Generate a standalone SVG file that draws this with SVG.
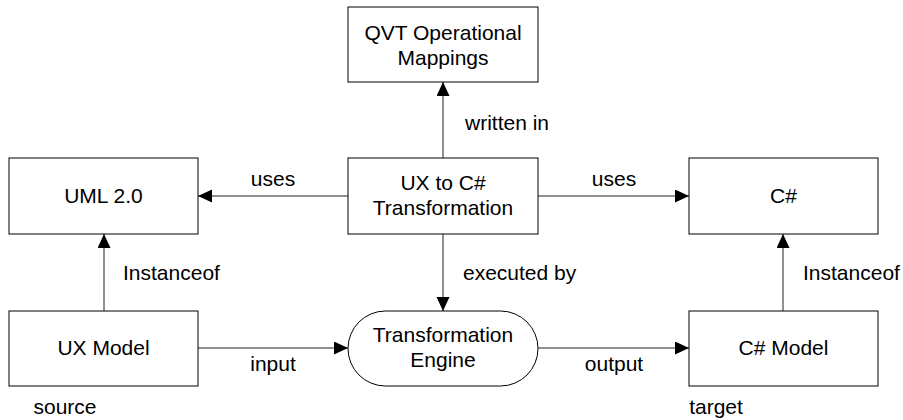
<svg xmlns="http://www.w3.org/2000/svg" width="903" height="420" viewBox="0 0 903 420">
<style>
.box{fill:#fff;stroke:#000;stroke-width:1}
.t{font-family:"Liberation Sans",Arial,sans-serif;font-size:21px;fill:#000}
.c{text-anchor:middle}
.e{fill:none;stroke:#222;stroke-width:1}
</style>
<defs>
<marker id="ah" markerUnits="userSpaceOnUse" markerWidth="14" markerHeight="14" refX="14" refY="6.5" orient="auto">
<path d="M0,0 L14,6.5 L0,13 Z" fill="#000"/>
</marker>
</defs>
<rect width="903" height="420" fill="#fff"/>
<g id="edges">
<line class="e" x1="443" y1="158" x2="443" y2="82" marker-end="url(#ah)"/>
<line class="e" x1="348" y1="196" x2="198" y2="196" marker-end="url(#ah)"/>
<line class="e" x1="538" y1="196" x2="689" y2="196" marker-end="url(#ah)"/>
<line class="e" x1="443" y1="234" x2="443" y2="311" marker-end="url(#ah)"/>
<line class="e" x1="104" y1="311" x2="104" y2="234" marker-end="url(#ah)"/>
<line class="e" x1="783" y1="311" x2="783" y2="234" marker-end="url(#ah)"/>
<line class="e" x1="198" y1="348" x2="348" y2="348" marker-end="url(#ah)"/>
<line class="e" x1="538" y1="348" x2="689" y2="348" marker-end="url(#ah)"/>
<text class="t" x="465" y="130">written in</text>
<text class="t c" x="273" y="186">uses</text>
<text class="t c" x="614" y="186">uses</text>
<text class="t" x="123" y="280">Instanceof</text>
<text class="t" x="463" y="280">executed by</text>
<text class="t" x="803" y="280">Instanceof</text>
<text class="t c" x="273" y="371">input</text>
<text class="t c" x="614" y="371">output</text>
<text class="t c" x="65" y="414">source</text>
<text class="t c" x="716" y="414">target</text>
</g>
<g id="qvt">
<rect class="box" x="348" y="7" width="190" height="75"/>
<text class="t c" x="443" y="40">QVT Operational</text>
<text class="t c" x="443" y="65">Mappings</text>
</g>
<g id="transformation">
<rect class="box" x="348" y="158" width="190" height="76"/>
<text class="t c" x="443" y="190">UX to C#</text>
<text class="t c" x="443" y="215">Transformation</text>
</g>
<g id="uml">
<rect class="box" x="9" y="158" width="189" height="76"/>
<text class="t c" x="103.5" y="203">UML 2.0</text>
</g>
<g id="csharp">
<rect class="box" x="689" y="158" width="189" height="76"/>
<text class="t c" x="783.5" y="203">C#</text>
</g>
<g id="uxmodel">
<rect class="box" x="9" y="311" width="189" height="75"/>
<text class="t c" x="103.5" y="355">UX Model</text>
</g>
<g id="engine">
<rect class="box" x="348" y="311" width="190" height="75" rx="37.5" ry="37.5"/>
<text class="t c" x="443" y="342">Transformation</text>
<text class="t c" x="443" y="367">Engine</text>
</g>
<g id="csmodel">
<rect class="box" x="689" y="311" width="189" height="75"/>
<text class="t c" x="783.5" y="355">C# Model</text>
</g>
</svg>
